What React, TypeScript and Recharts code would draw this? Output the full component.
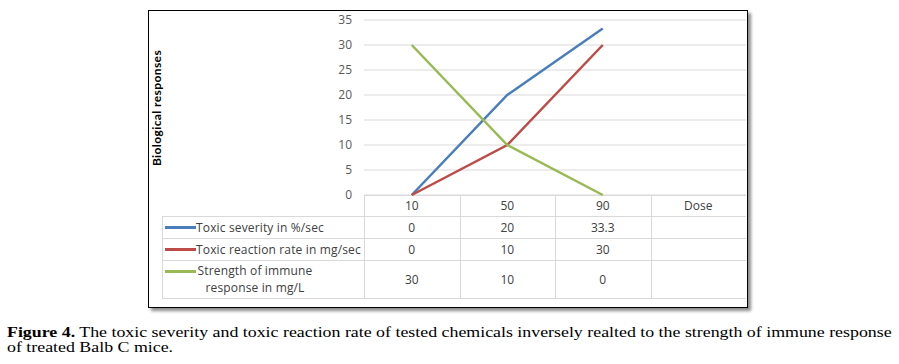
import React from 'react';
import { LineChart, Line, XAxis, YAxis, CartesianGrid } from 'recharts';

// dose categories (last column is the empty "Dose" label column)
const doses = ['10', '50', '90', 'Dose'];
const toxicSeverity = [0, 20, 33.3, null];
const toxicReaction = [0, 10, 30, null];
const immuneStrength = [30, 10, 0, null];
const yTicks = [0, 5, 10, 15, 20, 25, 30, 35];

const seriesNames = ['Toxic severity in %/sec', 'Toxic reaction rate in mg/sec', 'Strength of immune response in mg/L'];
const seriesColors = ['#4A7EBB', '#BE4B48', '#98B954'];
const seriesValues = [toxicSeverity, toxicReaction, immuneStrength];

const chartData = doses.map((d, i) => ({
  dose: d,
  severity: toxicSeverity[i],
  reaction: toxicReaction[i],
  immune: immuneStrength[i],
}));

const FONT = '"Open Sans", sans-serif';
const GRID = '#D9D9D9';

// frame + plot geometry (page coords)
const frameX = 148, frameY = 10, frameW = 600, frameH = 298;
const plotLeft = 364, plotRight = 746, plotBottom = 195;
const colW = (plotRight - plotLeft) / doses.length;
const tableLeft = 162;
const rowTops = [195, 216, 238, 260, 298];

export default function App() {
  const hLine = (y: number, x1: number, x2: number, key: string) => (
    <div key={key} style={{ position: 'absolute', left: x1, top: y, width: x2 - x1, height: 1, background: GRID }} />
  );
  const vLine = (x: number, y1: number, y2: number, key: string) => (
    <div key={key} style={{ position: 'absolute', left: x, top: y1, width: 1, height: y2 - y1, background: GRID }} />
  );

  return (
    <div style={{ position: 'absolute', left: 0, top: 0, width: 899, height: 364, background: '#fff', fontFamily: FONT }}>
      <div style={{
        position: 'absolute', left: frameX, top: frameY, width: frameW, height: frameH,
        border: '1px solid #000', boxSizing: 'border-box', boxShadow: '3px 3px 3px rgba(0,0,0,0.45)', background: '#fff',
      }} />

      {/* data table */}
      {hLine(rowTops[0], plotLeft, plotRight, 'h0')}
      {rowTops.slice(1).map((y, i) => hLine(y, tableLeft, plotRight, 'h' + (i + 1)))}
      {vLine(tableLeft, rowTops[1], rowTops[4], 'vl')}
      {doses.map((_, i) => vLine(plotLeft + i * colW, rowTops[0], rowTops[4], 'v' + i))}

      {seriesNames.map((name, r) => {
        const top = rowTops[r + 1];
        const h = rowTops[r + 2] - top;
        const twoLine = r === 2;
        return (
          <React.Fragment key={name}>
            <div style={{ position: 'absolute', left: 165, top: top + (twoLine ? 10 : h / 2 - 1), width: 31, height: 3, background: seriesColors[r] }} />
            <div style={{
              position: 'absolute', left: 196, top: top + (twoLine ? 2 : 3), width: twoLine ? 118 : 170,
              fontSize: 12, letterSpacing: 0.15, lineHeight: '17px', color: '#404040', textAlign: twoLine ? 'center' : 'left', whiteSpace: 'nowrap',
            }}>
              {twoLine ? <>Strength of immune<br />response in mg/L</> : name}
            </div>
            {seriesValues[r].map((v, c) => (
              <div key={c} style={{
                position: 'absolute', left: plotLeft + c * colW, top, width: colW, height: h,
                display: 'flex', alignItems: 'center', justifyContent: 'center', fontSize: 12, color: '#404040',
              }}>
                {v === null ? '' : String(v)}
              </div>
            ))}
          </React.Fragment>
        );
      })}

      <div style={{
        position: 'absolute', left: 156, top: 108, transform: 'translate(-50%, -50%) rotate(-90deg)',
        fontFamily: 'Lato, sans-serif', fontWeight: 700, fontSize: 12, letterSpacing: 0.4, color: '#000', whiteSpace: 'nowrap',
      }}>
        Biological responses
      </div>

      <div style={{ position: 'absolute', left: frameX, top: frameY }}>
        <LineChart
          width={frameW}
          height={frameH}
          data={chartData}
          margin={{ top: 10, right: frameX + frameW - plotRight, bottom: frameY + frameH - plotBottom - 21, left: 0 }}
        >
          <CartesianGrid vertical={false} stroke={GRID} strokeWidth={1} />
          <XAxis
            dataKey="dose"
            height={21}
            axisLine={false}
            tickLine={false}
            tickSize={0}
            tickMargin={6}
            interval={0}
            padding={{ left: colW / 2, right: colW / 2 }}
            tick={{ fill: '#404040', fontSize: 12, fontFamily: FONT }}
          />
          <YAxis
            width={plotLeft - frameX}
            domain={[0, 35]}
            ticks={yTicks}
            axisLine={false}
            tickLine={false}
            tickSize={0}
            tickMargin={12}
            tick={{ fill: '#595959', fontSize: 12, fontFamily: FONT }}
          />
          <Line type="linear" dataKey="severity" stroke={seriesColors[0]} strokeWidth={2.5} dot={false} isAnimationActive={false} />
          <Line type="linear" dataKey="reaction" stroke={seriesColors[1]} strokeWidth={2.5} dot={false} isAnimationActive={false} />
          <Line type="linear" dataKey="immune" stroke={seriesColors[2]} strokeWidth={2.5} dot={false} isAnimationActive={false} />
        </LineChart>
      </div>

      <div style={{
        position: 'absolute', left: 7, top: 325, fontFamily: '"Liberation Serif", "Times New Roman", serif',
        fontSize: 15, lineHeight: '15px', color: '#000', whiteSpace: 'nowrap',
        transform: 'scaleX(1.19)', transformOrigin: 'left top',
      }}>
        <b>Figure 4.</b> The toxic severity and toxic reaction rate of tested chemicals inversely realted to the strength of immune response
        <br />of treated Balb C mice.
      </div>
    </div>
  );
}
